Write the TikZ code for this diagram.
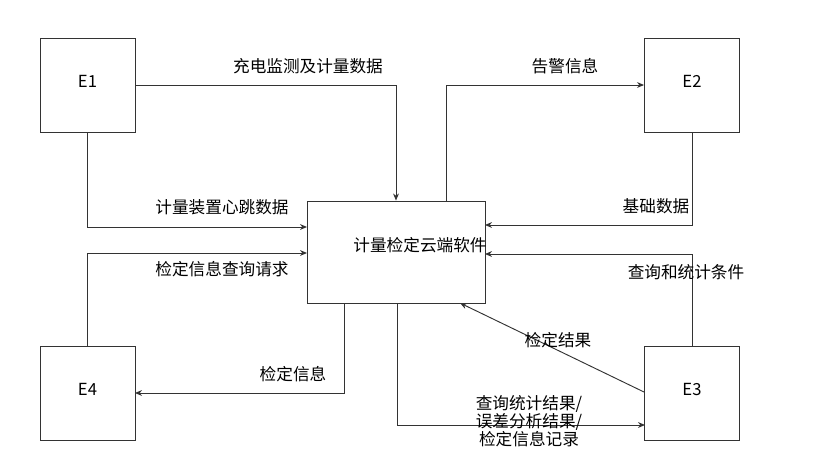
\documentclass[tikz,border=0pt]{standalone}
\usepackage{fontspec}
\setmainfont{Noto Sans CJK SC}
\usetikzlibrary{arrows.meta,positioning}

\tikzset{
  ent/.style={draw=black!80,line width=0.8pt,minimum width=2.85cm,minimum height=2.82cm,inner sep=0pt},
  soft/.style={draw=black!80,line width=0.8pt,minimum width=5.34cm,minimum height=3.06cm,inner sep=0pt},
  flow/.style={-{Stealth[length=6pt,width=5pt]},draw=black!80,line width=0.8pt},
  lbl/.style={inner sep=0pt,font=\fontsize{14.2}{13.6}\selectfont,align=center}
}

\begin{document}
\begin{tikzpicture}[x=0.03cm,y=-0.03cm]
\useasboundingbox (0,0) rectangle (831,468);
\node[ent,lbl] (E1) at (87.5,85) {\raisebox{6pt}{E1}};
\node[ent,lbl] (E2) at (692,85) {\raisebox{6pt}{E2}};
\node[ent,lbl] (E4) at (87.5,393) {\raisebox{6pt}{E4}};
\node[ent,lbl] (E3) at (692,393) {\raisebox{6pt}{E3}};
\node[soft] (sw) at (396,252) {};
\node[lbl] (swtext) at (420,245) {计量检定云端软件};
% turning points
\coordinate (ta) at (446,201);
\coordinate (ra) at (485,225);
\coordinate (rb) at (485,254);
\coordinate (la) at (307,227);
\coordinate (lb) at (307,253);
\coordinate (ba) at (344,303);
\coordinate (bb) at (397,303);
\coordinate (bc) at (460,303);
\coordinate (ea) at (644,392);
\coordinate (eb) at (645,425);
\coordinate (ec) at (135,393);
\draw[flow] (E1.east) -| (sw.north);
\draw[flow] (E1.south) |- (la);
\draw[flow] (ta) |- (E2.west);
\draw[flow] (E2.south) |- (ra);
\draw[flow] (E3.north) |- (rb);
\draw[flow] (E4.north) |- (lb);
\draw[flow] (ba) |- (ec);
\draw[flow] (bb) |- (eb);
\draw[flow] (ea) -- (bc);
% labels
\node[lbl] (l1) at (308,66) {充电监测及计量数据};
\node[lbl] (l2) at (222,207) {计量装置心跳数据};
\node[lbl] (l3) at (565,66) {告警信息};
\node[lbl] (l4) at (656,206) {基础数据};
\node[lbl] (l5) at (686,272) {查询和统计条件};
\node[lbl] (l6) at (222,269) {检定信息查询请求};
\node[lbl] (l7) at (293,374) {检定信息};
\node[lbl] (l8) at (558,340) {检定结果};
\node[lbl] (l9) at (529,421) {查询统计结果/\\误差分析结果/\\检定信息记录};
\end{tikzpicture}
\end{document}
